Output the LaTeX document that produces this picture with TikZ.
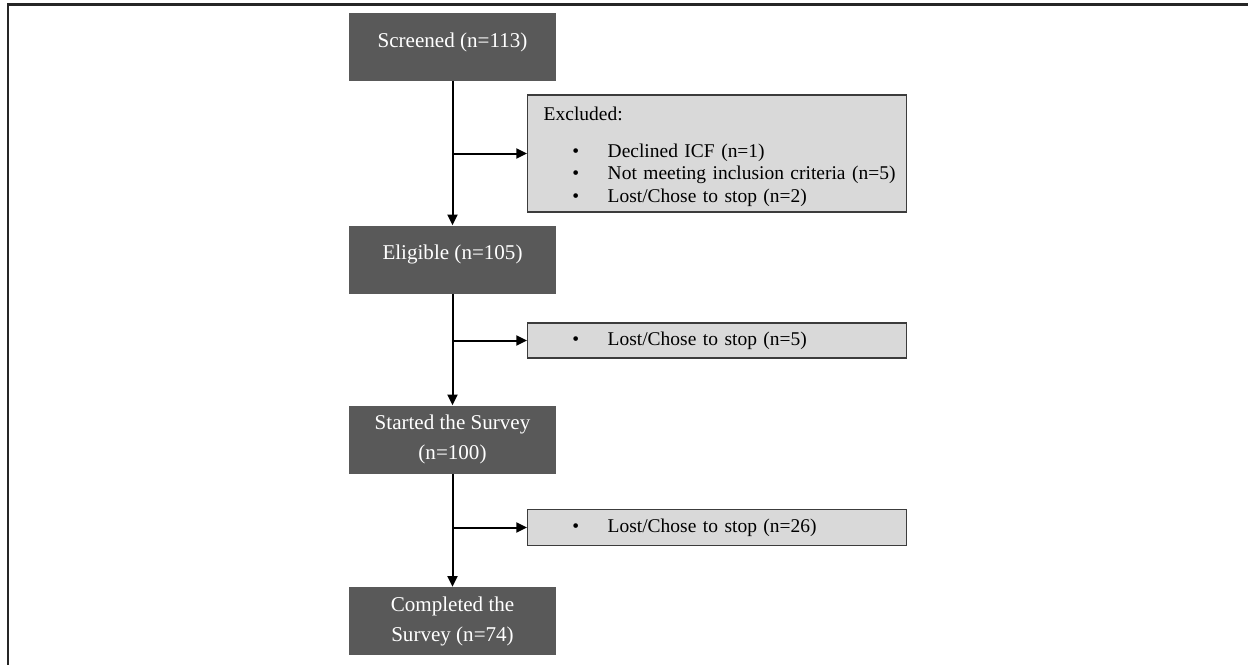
\documentclass[tikz,border=0pt]{standalone}
\usepackage{fontspec}
\setmainfont{Liberation Serif}
\usetikzlibrary{arrows.meta}

\definecolor{darkbox}{RGB}{89,89,89}
\definecolor{lightbox}{RGB}{217,217,217}
\definecolor{edgegray}{RGB}{60,60,60}

\newcommand{\flowitem}[1]{\mbox{\hspace*{27.5pt}\makebox[26.5pt][l]{\textbullet}#1}}

\begin{document}
\begin{tikzpicture}[>={Triangle[length=8pt,width=7.5pt]}, x=0.75pt, y=-0.75pt,
        mainbox/.style={fill=darkbox, text=white, minimum width=155.25pt, minimum height=51pt,
            inner sep=0pt, align=center, font=\fontsize{15.8}{22.5}\selectfont},
        oneline/.style={text height=25.5pt, text depth=25.5pt},
        sidebox/.style={draw=edgegray, line width=1.1pt, fill=lightbox, text width=272.25pt,
            inner xsep=6pt, inner ysep=0pt, anchor=west, align=left,
            font=\fontsize{14.6}{17}\selectfont},
        flow/.style={->, line width=1.5pt},
        frame/.style={line width=1.9pt, black!85}]
        \useasboundingbox (0,0) rectangle (1248,665);

        % Frame
        \draw[frame] (1248,4.5) -| (8,665);

        % Nodes
        \node[mainbox, oneline] (scr) at (452.5,47) {Screened (n=113)};
        \node[mainbox, oneline] (elig) at (452.5,259.5) {Eligible (n=105)};
        \node[mainbox] (start) at (452.5,439.5) {Started the Survey\\(n=100)};
        \node[mainbox] (done) at (452.5,621) {Completed the\\Survey (n=74)};

        \node[sidebox, minimum height=87.75pt] (exc) at (527,153.5) {\hspace*{6pt}\rule{0pt}{15pt}Excluded:\\[10.75pt]
            \flowitem{Declined ICF (n=1)}\\
            \flowitem{Not meeting inclusion criteria (n=5)}\\
            \flowitem{Lost/Chose to stop (n=2)}};
        \node[sidebox, minimum height=26.25pt] (lost1) at (527,340.5) {\flowitem{Lost/Chose to stop (n=5)}};
        \node[sidebox, minimum height=27pt] (lost2) at (527,527.5) {\flowitem{Lost/Chose to stop (n=26)}};

        % Junctions
        \coordinate (j1) at (scr.south |- exc.west);
        \coordinate (j2) at (elig.south |- lost1.west);
        \coordinate (j3) at (start.south |- lost2.west);

        % Edges
        \draw[flow] (scr) -- (elig);
        \draw[flow] (elig) -- (start);
        \draw[flow] (start) -- (done);
        \draw[flow] (j1) -- (exc);
        \draw[flow] (j2) -- (lost1);
        \draw[flow] (j3) -- (lost2);

    \end{tikzpicture}
\end{document}
